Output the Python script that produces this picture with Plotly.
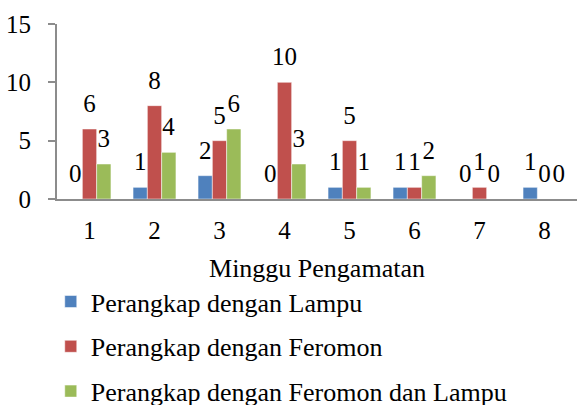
import plotly.graph_objects as go

weeks = ["1", "2", "3", "4", "5", "6", "7", "8"]
lampu = [0, 1, 2, 0, 1, 1, 0, 1]
feromon = [6, 8, 5, 10, 5, 1, 1, 0]
feromon_lampu = [3, 4, 6, 3, 1, 2, 0, 0]

series_names = ["Perangkap dengan Lampu", "Perangkap dengan Feromon",
                "Perangkap dengan Feromon dan Lampu"]
series_values = [lampu, feromon, feromon_lampu]
colors = ["#4F81BD", "#C0504D", "#9BBB59"]

FONT = "Liberation Serif"

fig = go.Figure()
for i, (name, vals, col) in enumerate(zip(series_names, series_values, colors)):
    fig.add_trace(go.Bar(
        x=weeks, y=vals, name=name, marker_color=col,
        marker_line=dict(color="white", width=0.5),
        text=[str(v) for v in vals],
        texttemplate="<span style='font-size:25px'>%{text}</span><br>"
                     "<span style='font-size:25px'> </span>",
        textposition="outside", cliponaxis=False, constraintext="none",
        textfont=dict(family=FONT, size=7, color="black"),
        legendgroup=f"g{i}",
    ))

fig.update_layout(
    width=577, height=405,
    margin=dict(l=57, r=0, t=24, b=206, autoexpand=False),
    paper_bgcolor="white", plot_bgcolor="white",
    barmode="group", bargap=0.34, bargroupgap=0,
    font=dict(family=FONT, size=25, color="black"),
    showlegend=True,
    legend=dict(
        orientation="v", x=-0.012, xanchor="left", y=-0.452, yanchor="top",
        font=dict(family=FONT, size=26, color="black"),
        tracegroupgap=8, bgcolor="rgba(0,0,0,0)",
    ),
)
fig.update_xaxes(
    showline=True, linecolor="#8c8c8c", linewidth=2, ticks="",
    showgrid=False, tickfont=dict(family=FONT, size=25), ticklabelstandoff=8,
    title=dict(text="Minggu Pengamatan", font=dict(family=FONT, size=26), standoff=16),
    automargin=False,
)
fig.update_yaxes(
    range=[0, 15], tickvals=[0, 5, 10, 15], showline=True, linecolor="#8c8c8c",
    linewidth=2, ticks="outside", ticklen=7, tickcolor="#8c8c8c", tickwidth=2,
    showgrid=False, zeroline=False, tickfont=dict(family=FONT, size=25),
    ticklabelstandoff=12, automargin=False,
)

fig.write_html("out.html", config={"displayModeBar": False},
               post_script="document.body.style.margin='0';")
